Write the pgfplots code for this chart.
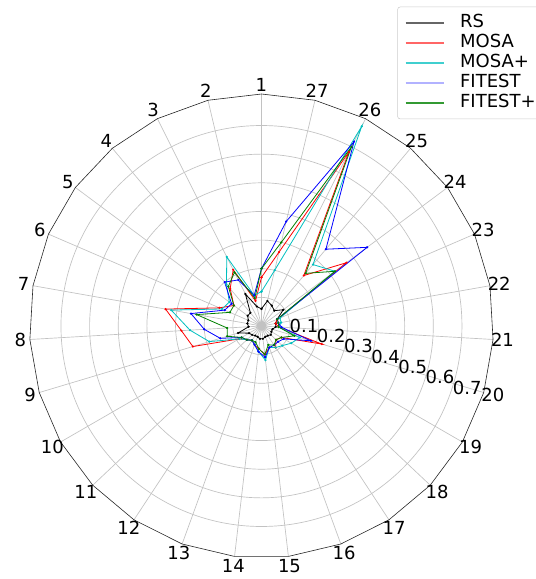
\documentclass[border=0pt]{standalone}
\usepackage{fontspec}
\setmainfont{DejaVu Sans}
\usepackage{pgfplots}
\pgfplotsset{compat=1.18}
\usepgfplotslibrary{polar}
\usepackage{pgfplotstable}

\pgfplotstableread{
k RS MOSA MOSAp FITEST FITESTp
1 0.060 0.170 0.120 0.200 0.200
2 0.070 0.090 0.110 0.110 0.100
3 0.125 0.220 0.270 0.180 0.210
4 0.060 0.170 0.190 0.200 0.180
5 0.060 0.120 0.140 0.130 0.120
6 0.050 0.160 0.150 0.140 0.120
7 0.050 0.340 0.320 0.250 0.230
8 0.045 0.280 0.250 0.200 0.120
9 0.085 0.250 0.190 0.150 0.125
10 0.050 0.090 0.090 0.080 0.080
11 0.045 0.070 0.070 0.070 0.070
12 0.040 0.060 0.060 0.060 0.060
13 0.040 0.070 0.070 0.070 0.060
14 0.045 0.080 0.090 0.090 0.080
15 0.045 0.100 0.120 0.110 0.100
16 0.040 0.080 0.080 0.080 0.070
17 0.040 0.090 0.090 0.080 0.080
18 0.045 0.070 0.100 0.080 0.070
19 0.040 0.080 0.120 0.090 0.080
20 0.040 0.220 0.140 0.180 0.120
21 0.050 0.060 0.060 0.070 0.060
22 0.050 0.050 0.070 0.060 0.060
23 0.060 0.060 0.070 0.060 0.060
24 0.095 0.370 0.320 0.460 0.320
25 0.070 0.230 0.280 0.350 0.240
26 0.080 0.680 0.780 0.720 0.700
27 0.090 0.265 0.200 0.375 0.300
28 0.060 0.170 0.120 0.200 0.200
}\data

\pgfplotstableread{
k r
1 0.81
2 0.81
3 0.81
4 0.81
5 0.81
6 0.81
7 0.81
8 0.81
9 0.81
10 0.81
11 0.81
12 0.81
13 0.81
14 0.81
15 0.81
16 0.81
17 0.81
18 0.81
19 0.81
20 0.81
21 0.81
22 0.81
23 0.81
24 0.81
25 0.81
26 0.81
27 0.81
28 0.81
}\frame

\definecolor{mcyan}{RGB}{0,191,191}
\definecolor{mgreen}{RGB}{0,128,0}

\begin{document}
\begin{tikzpicture}[font=\fontsize{13.5}{16}\selectfont]
\path[use as bounding box] (0,0) rectangle (402pt,434.25pt);
\begin{polaraxis}[
  at={(196.1pt,189.75pt)}, anchor=center,
  scale only axis, width=348pt, height=348pt,
  ymin=0, ymax=0.81,
  xmin=0, xmax=360,
  xtick={90,103.333,116.667,130,143.333,156.667,170,183.333,196.667,210,223.333,236.667,250,263.333,276.667,290,303.333,316.667,330,343.333,356.667,10,23.333,36.667,50,63.333,76.667},
  xticklabels={},
  ytick={0.1,0.2,0.3,0.4,0.5,0.6,0.7},
  yticklabels={},
  grid=major,
  major grid style={draw=black!24, line width=0.5pt},
  axis line style={draw=none},
  major tick length=0pt,
  clip=false,
  legend style={at={(0.7928,1.1882)}, anchor=north west, draw=black!20, rounded corners=2pt,
    inner sep=5.5pt, row sep=2pt,
    nodes={inner sep=0pt, text height=10pt, text depth=3pt},
    /tikz/every odd column/.append style={column sep=12pt},
    font=\fontsize{13.5}{16}\selectfont},
  legend cell align=left,
  legend image code/.code={\draw[#1, line width=0.9pt] (0pt,0pt) -- (28.5pt,0pt);},
]
\addplot[black!85, line width=0.45pt, no marks, forget plot] table[x expr={mod(90+(\thisrow{k}-1)*360/27,360)}, y=r] {\frame};

\addplot[black, line width=0.6pt, mark=*, mark size=0.5pt, forget plot] table[x expr={mod(90+(\thisrow{k}-1)*360/27,360)}, y=RS] {\data};
\addplot[red, line width=0.6pt, mark=*, mark size=0.5pt, forget plot] table[x expr={mod(90+(\thisrow{k}-1)*360/27,360)}, y=MOSA] {\data};
\addplot[mcyan, line width=0.6pt, mark=*, mark size=0.5pt, forget plot] table[x expr={mod(90+(\thisrow{k}-1)*360/27,360)}, y=MOSAp] {\data};
\addplot[blue, line width=0.6pt, mark=*, mark size=0.5pt, forget plot] table[x expr={mod(90+(\thisrow{k}-1)*360/27,360)}, y=FITEST] {\data};
\addplot[mgreen, line width=0.6pt, mark=*, mark size=0.5pt, forget plot] table[x expr={mod(90+(\thisrow{k}-1)*360/27,360)}, y=FITESTp] {\data};

\addlegendimage{black!60}
\addlegendentry{RS}
\addlegendimage{red!60}
\addlegendentry{MOSA}
\addlegendimage{mcyan!75}
\addlegendentry{MOSA+}
\addlegendimage{blue!30}
\addlegendentry{FITEST}
\addlegendimage{mgreen!80}
\addlegendentry{FITEST+}

\pgfplotsinvokeforeach{1,...,27}{
  \node[inner sep=0pt] at (axis cs:{90+(#1-1)*360/27},0.843) {#1};
}
\end{polaraxis}
\node[inner sep=0pt] at (228pt,190.0pt) {0.1};
\node[inner sep=0pt] at (248.4pt,182.25pt) {0.2};
\node[inner sep=0pt] at (268.8pt,174.5pt) {0.3};
\node[inner sep=0pt] at (289.2pt,166.8pt) {0.4};
\node[inner sep=0pt] at (309.6pt,159.1pt) {0.5};
\node[inner sep=0pt] at (330pt,151.35pt) {0.6};
\node[inner sep=0pt] at (350.4pt,143.6pt) {0.7};
\end{tikzpicture}
\end{document}
